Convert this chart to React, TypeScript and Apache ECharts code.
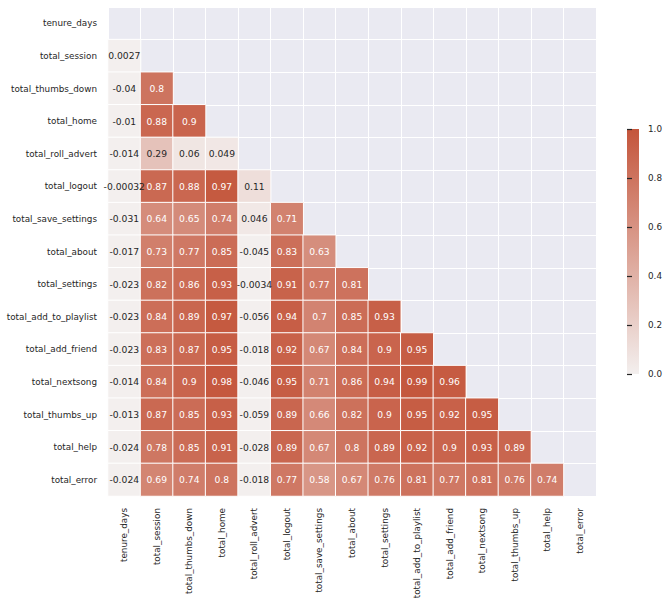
import React, { useEffect, useRef } from 'react';
import * as echarts from 'echarts';

const labels = [
  'tenure_days',
  'total_session',
  'total_thumbs_down',
  'total_home',
  'total_roll_advert',
  'total_logout',
  'total_save_settings',
  'total_about',
  'total_settings',
  'total_add_to_playlist',
  'total_add_friend',
  'total_nextsong',
  'total_thumbs_up',
  'total_help',
  'total_error',
];

// lower triangle of the correlation matrix (row i, columns 0..i-1)
const row0: number[] = [];
const row1 = [0.0027];
const row2 = [-0.04, 0.8];
const row3 = [-0.01, 0.88, 0.9];
const row4 = [-0.014, 0.29, 0.06, 0.049];
const row5 = [-0.00032, 0.87, 0.88, 0.97, 0.11];
const row6 = [-0.031, 0.64, 0.65, 0.74, 0.046, 0.71];
const row7 = [-0.017, 0.73, 0.77, 0.85, -0.045, 0.83, 0.63];
const row8 = [-0.023, 0.82, 0.86, 0.93, -0.0034, 0.91, 0.77, 0.81];
const row9 = [-0.023, 0.84, 0.89, 0.97, -0.056, 0.94, 0.7, 0.85, 0.93];
const row10 = [-0.023, 0.83, 0.87, 0.95, -0.018, 0.92, 0.67, 0.84, 0.9, 0.95];
const row11 = [-0.014, 0.84, 0.9, 0.98, -0.046, 0.95, 0.71, 0.86, 0.94, 0.99, 0.96];
const row12 = [-0.013, 0.87, 0.85, 0.93, -0.059, 0.89, 0.66, 0.82, 0.9, 0.95, 0.92, 0.95];
const row13 = [-0.024, 0.78, 0.85, 0.91, -0.028, 0.89, 0.67, 0.8, 0.89, 0.92, 0.9, 0.93, 0.89];
const row14 = [-0.024, 0.69, 0.74, 0.8, -0.018, 0.77, 0.58, 0.67, 0.76, 0.81, 0.77, 0.81, 0.76, 0.74];

const rows = [row0, row1, row2, row3, row4, row5, row6, row7, row8, row9, row10, row11, row12, row13, row14];

const colorbarMin = 0;
const colorbarMax = 1;
const colorbarStep = 0.2;
const colorLow = '#f3efee';
const colorHigh = '#c4553b';

const TEXT = '#262626';
const FONT = 'DejaVu Sans';

export default function App() {
  const ref = useRef<HTMLDivElement>(null);

  useEffect(() => {
    if (!ref.current) return;
    const chart = echarts.init(ref.current, undefined, { renderer: 'svg' });

    const data: any[] = [];
    rows.forEach((row, i) =>
      row.forEach((v, j) => {
        const c = Math.max(colorbarMin, Math.min(colorbarMax, v));
        data.push({
          value: [j, i, v, c],
          label: { color: v >= 0.5 ? '#ffffff' : TEXT },
        });
      })
    );

    chart.setOption({
      animation: false,
      backgroundColor: '#ffffff',
      textStyle: { fontFamily: FONT },
      grid: [
        {
          left: 108,
          top: 7,
          width: 488,
          height: 489,
          show: true,
          backgroundColor: '#eaeaf2',
          borderWidth: 0,
        },
        {
          left: 627,
          top: 129,
          width: 12,
          height: 245,
          show: false,
        },
      ],
      graphic: [
        {
          type: 'rect',
          left: 627,
          top: 129,
          shape: { width: 12, height: 245 },
          style: {
            fill: new echarts.graphic.LinearGradient(0, 0, 0, 1, [
              { offset: 0, color: colorHigh },
              { offset: 1, color: colorLow },
            ]),
          },
          silent: true,
        },
      ],
      xAxis: [
        {
          type: 'category',
          data: labels,
          gridIndex: 0,
          axisLine: { show: false },
          axisTick: { show: false },
          splitLine: { show: true, interval: 0, lineStyle: { color: '#ffffff', width: 1 } },
          axisLabel: {
            interval: 0,
            rotate: 90,
            margin: 12,
            fontSize: 8.8,
            color: TEXT,
            fontFamily: FONT,
          },
        },
        {
          type: 'value',
          gridIndex: 1,
          min: 0,
          max: 1,
          show: false,
        },
      ],
      yAxis: [
        {
          type: 'category',
          data: labels,
          inverse: true,
          gridIndex: 0,
          axisLine: { show: false },
          axisTick: { show: false },
          splitLine: { show: true, interval: 0, lineStyle: { color: '#ffffff', width: 1 } },
          axisLabel: {
            interval: 0,
            margin: 11,
            fontSize: 8.8,
            color: TEXT,
            fontFamily: FONT,
          },
        },
        {
          type: 'value',
          gridIndex: 1,
          position: 'right',
          min: colorbarMin,
          max: colorbarMax,
          interval: colorbarStep,
          axisLine: { show: false },
          axisTick: { show: true, length: 5, lineStyle: { color: TEXT, width: 1.2 } },
          splitLine: { show: false },
          axisLabel: {
            margin: 9,
            fontSize: 8.8,
            color: TEXT,
            fontFamily: FONT,
            formatter: (v: number) => v.toFixed(1),
          },
        },
      ],
      visualMap: {
        type: 'continuous',
        show: false,
        seriesIndex: 0,
        dimension: 3,
        min: colorbarMin,
        max: colorbarMax,
        inRange: { color: [colorLow, colorHigh] },
      },
      series: [
        {
          type: 'heatmap',
          xAxisIndex: 0,
          yAxisIndex: 0,
          data,
          itemStyle: { borderColor: '#ffffff', borderWidth: 1 },
          label: {
            show: true,
            fontSize: 9.2,
            fontFamily: FONT,
            formatter: (p: any) => String(p.value[2]),
          },
          emphasis: { disabled: true },
        },
        {
          type: 'scatter',
          xAxisIndex: 1,
          yAxisIndex: 1,
          data: [],
          silent: true,
        },
      ],
    });

    return () => chart.dispose();
  }, []);

  return (
    <div
      ref={ref}
      style={{ position: 'absolute', left: 0, top: 0, width: 669, height: 603 }}
    />
  );
}
